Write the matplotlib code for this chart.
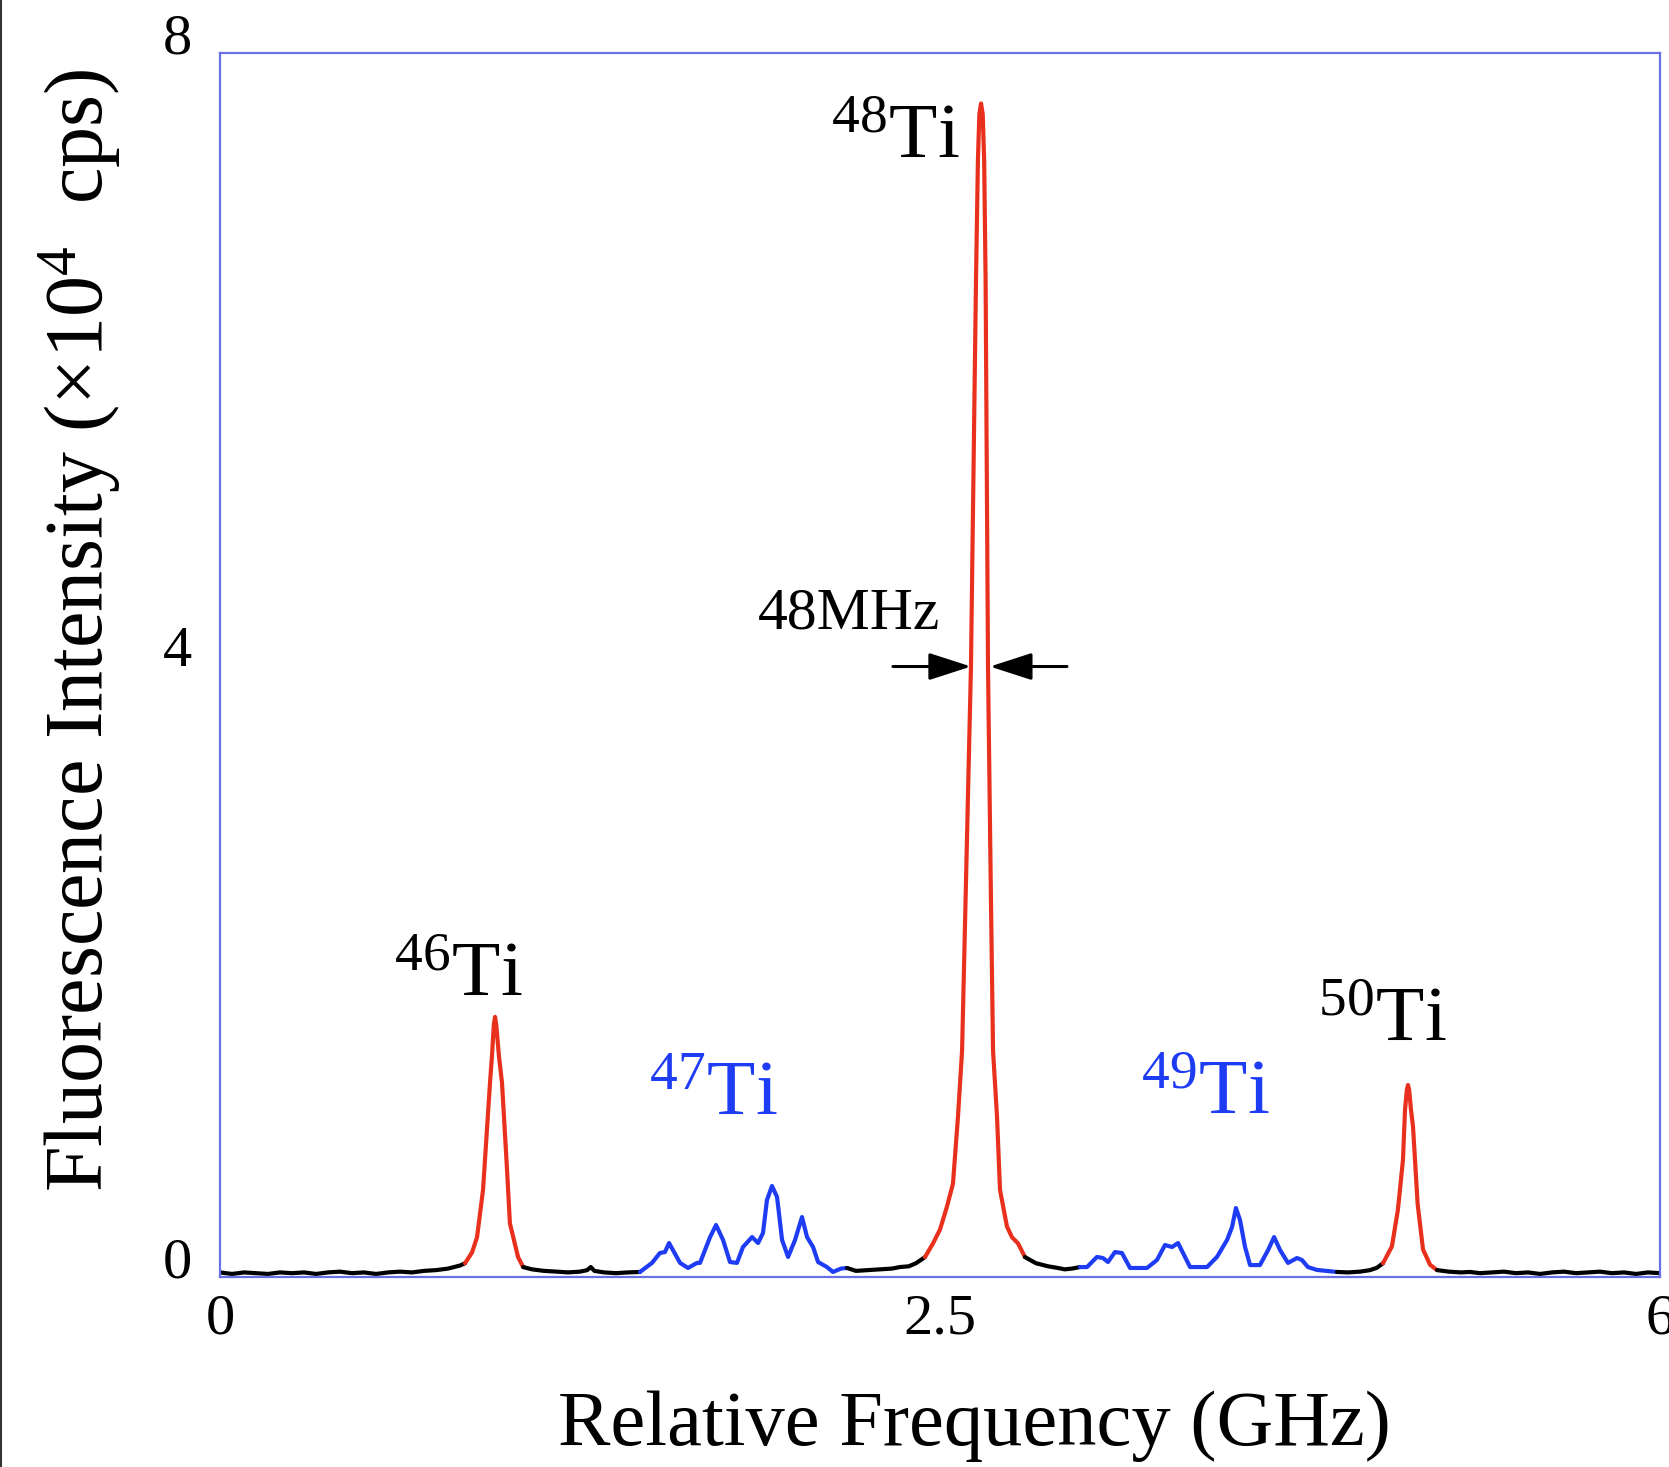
import matplotlib
matplotlib.use("Agg")
import matplotlib.pyplot as plt
from matplotlib.transforms import ScaledTranslation
from matplotlib.lines import Line2D

plt.rcParams['font.family'] = ['Liberation Serif', 'DejaVu Serif']
plt.rcParams['mathtext.fontset'] = 'custom'
plt.rcParams['mathtext.rm'] = 'Liberation Serif'
plt.rcParams['mathtext.it'] = 'Liberation Serif:italic'
plt.rcParams['mathtext.bf'] = 'Liberation Serif:bold'

RED = '#e8301c'
BLUE = '#1f3cf5'
BLACK = '#000000'
FRAME = '#6a70e4'

# ---- spectrum segments (x in axis units, y in 10^4 cps) ----
base1_x = [0.0, 0.05, 0.1, 0.15, 0.2, 0.25, 0.3, 0.35, 0.4, 0.45, 0.5, 0.55, 0.6,
           0.65, 0.7, 0.75, 0.8, 0.85, 0.9, 0.95, 1.0, 1.021]
base1_y = [0.03, 0.02, 0.03, 0.025, 0.02, 0.03, 0.025, 0.03, 0.02, 0.03, 0.035, 0.025,
           0.03, 0.02, 0.03, 0.035, 0.03, 0.04, 0.045, 0.055, 0.075, 0.09]

ti46_x = [1.021, 1.05, 1.071, 1.096, 1.125, 1.133, 1.141, 1.146, 1.151, 1.1625, 1.175,
          1.196, 1.208, 1.242, 1.263]
ti46_y = [0.09, 0.16, 0.26, 0.57, 1.27, 1.44, 1.65, 1.70, 1.65, 1.44, 1.27, 0.70, 0.35,
          0.13, 0.065]

base2_x = [1.263, 1.3, 1.35, 1.404, 1.45, 1.5, 1.53, 1.545, 1.56, 1.6, 1.65, 1.7, 1.75]
base2_y = [0.065, 0.05, 0.04, 0.035, 0.03, 0.035, 0.045, 0.065, 0.04, 0.03, 0.025,
           0.03, 0.033]

ti47_x = [1.75, 1.80, 1.833, 1.854, 1.871, 1.917, 1.95, 1.9875, 2.0, 2.042, 2.067,
          2.096, 2.125, 2.154, 2.179, 2.217, 2.242, 2.2625, 2.279, 2.30, 2.321, 2.342,
          2.367, 2.396, 2.425, 2.446, 2.471, 2.492, 2.529, 2.554, 2.5875, 2.6125]
ti47_y = [0.033, 0.092, 0.157, 0.163, 0.222, 0.092, 0.059, 0.092, 0.092, 0.261, 0.34,
          0.242, 0.098, 0.092, 0.196, 0.261, 0.222, 0.288, 0.503, 0.595, 0.523, 0.242,
          0.131, 0.242, 0.392, 0.261, 0.196, 0.098, 0.065, 0.033, 0.055, 0.059]

base3_x = [2.6125, 2.65, 2.7, 2.75, 2.8, 2.833, 2.87, 2.9, 2.9375]
base3_y = [0.059, 0.04, 0.045, 0.05, 0.055, 0.065, 0.07, 0.09, 0.13]

ti48_x = [2.9375, 2.971, 3.0, 3.029, 3.054, 3.075, 3.092, 3.11, 3.129, 3.15, 3.158,
          3.164, 3.171, 3.178, 3.184, 3.19, 3.2, 3.212, 3.221, 3.2375, 3.25, 3.279,
          3.30, 3.325, 3.354]
ti48_y = [0.13, 0.22, 0.31, 0.46, 0.61, 1.05, 1.48, 2.7, 3.99, 6.52, 7.3, 7.6, 7.67,
          7.6, 7.3, 6.52, 3.99, 2.5, 1.48, 1.05, 0.57, 0.33, 0.26, 0.22, 0.13]

base4_x = [3.354, 3.4, 3.45, 3.4875, 3.52, 3.55, 3.583]
base4_y = [0.13, 0.09, 0.07, 0.06, 0.05, 0.055, 0.065]

ti49_x = [3.583, 3.6125, 3.654, 3.679, 3.70, 3.729, 3.758, 3.792, 3.8625, 3.904,
          3.9375, 3.967, 3.992, 4.0125, 4.042, 4.1125, 4.154, 4.196, 4.217, 4.233,
          4.25, 4.271, 4.292, 4.333, 4.367, 4.392, 4.417, 4.45, 4.4875, 4.508, 4.533,
          4.571, 4.654]
ti49_y = [0.065, 0.065, 0.131, 0.124, 0.098, 0.163, 0.157, 0.059, 0.059, 0.111,
          0.209, 0.196, 0.222, 0.157, 0.065, 0.065, 0.131, 0.242, 0.327, 0.451,
          0.373, 0.196, 0.078, 0.078, 0.176, 0.261, 0.176, 0.092, 0.124, 0.111, 0.065,
          0.046, 0.033]

base5_x = [4.654, 4.7, 4.75, 4.792, 4.82, 4.846]
base5_y = [0.033, 0.03, 0.035, 0.045, 0.06, 0.09]

ti50_x = [4.846, 4.883, 4.908, 4.929, 4.9375, 4.945, 4.95, 4.955, 4.962, 4.971, 4.99,
          5.0125, 5.042, 5.071]
ti50_y = [0.09, 0.20, 0.44, 0.765, 1.09, 1.22, 1.255, 1.22, 1.10, 0.98, 0.48, 0.18,
          0.08, 0.045]

base6_x = [5.071, 5.12, 5.17, 5.208, 5.25, 5.3, 5.35, 5.4, 5.45, 5.5, 5.55, 5.6,
           5.65, 5.7, 5.75, 5.8, 5.85, 5.9, 5.95, 6.0]
base6_y = [0.045, 0.035, 0.03, 0.033, 0.025, 0.03, 0.035, 0.025, 0.03, 0.02, 0.03,
           0.035, 0.025, 0.03, 0.035, 0.025, 0.03, 0.02, 0.03, 0.025]

segments = [
    (base1_x, base1_y, BLACK), (ti46_x, ti46_y, RED), (base2_x, base2_y, BLACK),
    (ti47_x, ti47_y, BLUE), (base3_x, base3_y, BLACK), (ti48_x, ti48_y, RED),
    (base4_x, base4_y, BLACK), (ti49_x, ti49_y, BLUE), (base5_x, base5_y, BLACK),
    (ti50_x, ti50_y, RED), (base6_x, base6_y, BLACK),
]

# ---- labels ----
iso_labels = [r'$^{46}$Ti', r'$^{47}$Ti', r'$^{48}$Ti', r'$^{49}$Ti', r'$^{50}$Ti']
iso_x = [1.2625, 2.325, 3.083, 4.375, 5.1125]
iso_y = [1.843, 1.07, 7.32, 1.07, 1.55]
iso_colors = [BLACK, BLUE, BLACK, BLUE, BLACK]

xtick_pos = [0, 3.0, 6]
xtick_labels = ['0', '2.5', '6']
ytick_pos = [0, 4, 8]
ytick_labels = ['0', '4', '8']

fig = plt.figure(figsize=(16.69, 14.67), dpi=100)
ax = fig.add_axes([220 / 1669, 1 - 1277 / 1467, 1440 / 1669, 1224 / 1467])

for xs, ys, c in segments:
    ax.plot(xs, ys, color=c, lw=3.0, solid_joinstyle='round', solid_capstyle='round')

ax.set_xlim(0, 6)
ax.set_ylim(0, 8)
for s in ax.spines.values():
    s.set_color(FRAME)
    s.set_linewidth(1.6)

ax.set_xticks(xtick_pos)
ax.set_xticklabels(xtick_labels, fontsize=42)
ax.set_yticks(ytick_pos)
ax.set_yticklabels(ytick_labels, fontsize=42)
ax.tick_params(length=0)
ax.tick_params(axis='x', pad=12)
ax.tick_params(axis='y', pad=20)
for lab in ax.get_yticklabels():
    lab.set_transform(lab.get_transform() + ScaledTranslation(0, 0.19, fig.dpi_scale_trans))

for t, x, y, c in zip(iso_labels, iso_x, iso_y, iso_colors):
    ax.text(x, y, t, color=c, fontsize=57, ha='right', va='baseline')

ax.text(3.0, 4.24, '48MHz', fontsize=43, ha='right', va='baseline')
ax.annotate('', xy=(3.129, 3.99), xytext=(2.804, 3.99),
            arrowprops=dict(arrowstyle='-|>,head_length=1.3,head_width=0.42',
                            mutation_scale=20, lw=2.2, color='black',
                            shrinkA=0, shrinkB=0))
ax.annotate('', xy=(3.208, 3.99), xytext=(3.529, 3.99),
            arrowprops=dict(arrowstyle='-|>,head_length=1.3,head_width=0.42',
                            mutation_scale=20, lw=2.2, color='black',
                            shrinkA=0, shrinkB=0))

fig.text(974 / 1669, 1 - 1426 / 1467, 'Relative Frequency (GHz)', fontsize=56.5,
         ha='center', va='center')
fig.text(80 / 1669, 1 - 630 / 1467, r'Fluorescence Intensity ($\times10^4$  cps)',
         fontsize=59, ha='center', va='center', rotation=90)

fig.add_artist(Line2D([0.0008, 0.0008], [0, 1], transform=fig.transFigure,
                      color='#333333', lw=1.5))

fig.savefig('out.png', dpi=100)
